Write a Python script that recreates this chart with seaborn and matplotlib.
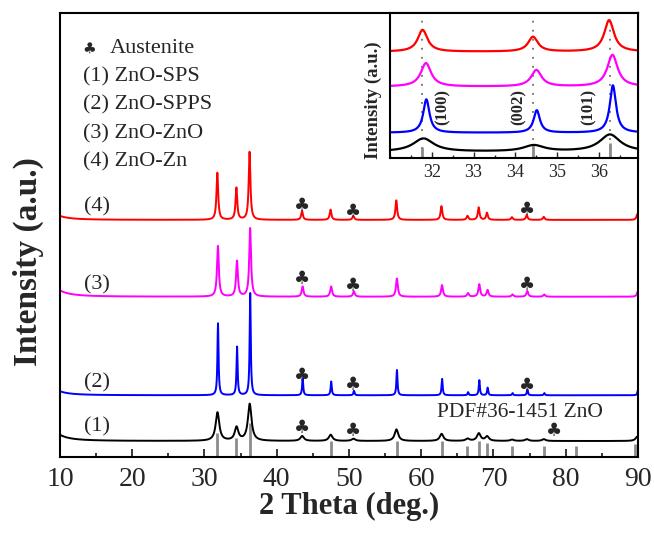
import numpy as np
import pandas as pd
import matplotlib
matplotlib.use("Agg")
import matplotlib.pyplot as plt
from matplotlib.ticker import MultipleLocator, FixedLocator
import seaborn as sns

# ---- values ----
samples = ["(1)", "(2)", "(3)", "(4)"]
sample_names = ["ZnO-SPS", "ZnO-SPPS", "ZnO-ZnO", "ZnO-Zn"]
colors = ["#000000", "#0000ff", "#ff00ff", "#ff0000"]

# peak centres (deg), ZnO reflections + austenite (43.5, 50.6, 74.6)
peak_pos = [31.78, 34.42, 36.24, 43.5, 47.45, 50.6, 56.55, 62.8, 66.4,
            67.95, 69.1, 72.55, 74.6, 76.95, 89.9]
# peak heights (a.u.) per sample, same order as peak_pos
heights_1 = [6.4, 3.0, 8.3, 1.1, 1.4, 0.5, 2.6, 1.6, 0.5, 1.7, 1.0, 0.3, 0.4, 0.4, 1.0]
heights_2 = [16.2, 10.9, 23.0, 3.8, 3.1, 1.0, 5.7, 3.7, 0.7, 3.4, 1.7, 0.5, 1.3, 0.5, 1.2]
heights_3 = [11.4, 8.0, 15.4, 2.3, 2.3, 1.2, 4.1, 2.6, 0.8, 2.8, 1.5, 0.5, 1.3, 0.5, 1.3]
heights_4 = [10.6, 7.2, 15.3, 2.0, 2.3, 0.9, 4.4, 3.1, 0.9, 2.8, 1.6, 0.6, 1.1, 0.7, 1.3]
peak_shift = [0.02, 0.09, 0.08, 0.0]        # small 2theta shifts seen in the inset
peak_width = [0.30, 0.09, 0.15, 0.14]       # half width (deg)
baseline = [3.6, 13.9, 36.1, 53.4]          # vertical offsets of the stacked patterns
low_angle_tail = [3.9, 2.5, 4.0, 2.5]       # background rise towards 10 deg

# austenite markers (2theta, intensity) per sample
club_pos = [[(43.5, 6.5), (50.6, 5.7), (78.4, 5.9)],
            [(43.5, 18.1), (50.6, 16.2), (74.6, 16.0)],
            [(43.5, 40.0), (50.6, 38.4), (74.6, 38.6)],
            [(43.5, 56.5), (50.6, 55.2), (74.6, 55.6)]]
label_y = [6.7, 16.7, 38.7, 56.4]

# PDF#36-1451 ZnO stick pattern
pdf_pos = [31.77, 34.42, 36.25, 47.54, 56.60, 62.86, 66.38, 67.96, 69.10,
           72.56, 76.95, 81.37, 89.60]
pdf_height = [5.3, 4.2, 7.6, 3.6, 3.5, 3.6, 2.5, 3.6, 3.1, 2.5, 2.5, 2.5, 2.9]

# inset (zoom on the three main ZnO peaks)
inset_offset = [4.3, 17.4, 49.2, 73.3]
inset_scale = 1.42
inset_lines = [31.77, 34.42, 36.25]
inset_pdf_height = [7.6, 9.0, 10.5]
inset_hkl = ["(100)", "(002)", "(101)"]
inset_hkl_x = [32.26, 34.08, 35.75]
inset_ticks = [32, 33, 34, 35, 36]


def pattern(x, i):
    heights = [heights_1, heights_2, heights_3, heights_4][i]
    y = np.full_like(x, baseline[i])
    for pos, h in zip(peak_pos, heights):
        y += h / (1 + ((x - pos - peak_shift[i]) / peak_width[i]) ** 2)
    y += low_angle_tail[i] / (1 + ((x - 8.0) / 1.5) ** 2)
    return y


sns.set_theme(style="white")
plt.rcParams["font.family"] = ["Liberation Serif", "DejaVu Sans"]

two_theta = np.arange(10.0, 90.001, 0.01)
frames = []
for i, s in enumerate(samples):
    frames.append(pd.DataFrame({"two_theta": two_theta,
                                "intensity": pattern(two_theta, i),
                                "sample": s}))
df = pd.concat(frames, ignore_index=True)

fig = plt.figure(figsize=(6.54, 5.33), dpi=100)
ax = fig.add_axes([0.0917, 0.1426, 0.8838, 0.833])

ax.vlines(pdf_pos, 0, pdf_height, color="#8c8c8c", lw=2.0, zorder=1)
sns.lineplot(data=df, x="two_theta", y="intensity", hue="sample",
             palette=dict(zip(samples, colors)), estimator=None, sort=False,
             linewidth=1.4, legend=False, ax=ax, zorder=2)

for i, s in enumerate(samples):
    ax.text(15.1, label_y[i], s, fontsize=16, ha="center", va="center")
    for cx, cy in club_pos[i]:
        ax.text(cx, cy, "\u2663", fontsize=13, ha="center", va="center",
                family="DejaVu Sans")

ax.text(73.7, 10.1, "PDF#36-1451 ZnO", fontsize=15.5, ha="center", va="center")

# legend-like text block
ax.text(0.050, 0.9205, "\u2663", transform=ax.transAxes, fontsize=11,
        ha="center", va="center", family="DejaVu Sans")
ax.text(0.0865, 0.9205, "Austenite", transform=ax.transAxes, fontsize=16,
        ha="left", va="center")
for k, (s, n) in enumerate(zip(samples, sample_names)):
    ax.text(0.0403, 0.8565 - k * 0.0638, f"{s} {n}", transform=ax.transAxes,
            fontsize=16, ha="left", va="center")

ax.set_xlim(10, 90)
ax.set_ylim(0, 100)
ax.xaxis.set_major_locator(MultipleLocator(10))
ax.xaxis.set_minor_locator(MultipleLocator(5))
ax.tick_params(axis="x", which="major", direction="in", length=6, width=1.3,
               labelsize=20, pad=7, bottom=True)
ax.tick_params(axis="x", which="minor", direction="in", length=3, width=1.3,
               bottom=True)
ax.tick_params(axis="y", left=False, labelleft=False)
ax.set_xlabel("2 Theta (deg.)", fontsize=22, fontweight="bold", labelpad=0)
ax.set_ylabel("Intensity (a.u.)", fontsize=24, fontweight="bold")
ax.yaxis.set_label_coords(-0.028, 0.44)
for sp in ax.spines.values():
    sp.set_linewidth(1.5)
    sp.set_color("black")

# ---- inset ----
x_in = np.arange(31.0, 36.935, 0.005)
frames = []
for i, s in enumerate(samples):
    y_in = inset_offset[i] + inset_scale * (pattern(x_in, i) - baseline[i])
    frames.append(pd.DataFrame({"two_theta": x_in, "intensity": y_in, "sample": s}))
df_in = pd.concat(frames, ignore_index=True)

ax_in = fig.add_axes([0.5963, 0.7036, 0.3792, 0.272])
for xv in inset_lines:
    ax_in.axvline(xv, color="#6e6e6e", lw=1.3, ls=(0, (1, 4)), zorder=1)
ax_in.vlines(inset_lines, 0, inset_pdf_height, color="#8c8c8c", lw=2.0, zorder=1)
sns.lineplot(data=df_in, x="two_theta", y="intensity", hue="sample",
             palette=dict(zip(samples, colors)), estimator=None, sort=False,
             linewidth=1.6, legend=False, ax=ax_in, zorder=2)
for xv, t in zip(inset_hkl_x, inset_hkl):
    ax_in.text(xv, 35.4, t, rotation=90, fontsize=12, fontweight="bold",
               ha="center", va="center")

ax_in.set_xlim(31.0, 36.93)
ax_in.set_ylim(0, 100)
ax_in.xaxis.set_major_locator(FixedLocator(inset_ticks))
ax_in.xaxis.set_minor_locator(MultipleLocator(0.5))
ax_in.tick_params(axis="x", which="major", direction="in", length=4.5, width=1.0,
                  labelsize=13, pad=4, bottom=True)
ax_in.tick_params(axis="x", which="minor", direction="in", length=2.5, width=1.0,
                  bottom=True)
ax_in.tick_params(axis="y", left=False, labelleft=False)
ax_in.set_xlabel("")
ax_in.set_ylabel("Intensity (a.u.)", fontsize=13.5, fontweight="bold")
ax_in.yaxis.set_label_coords(-0.032, 0.40)
for sp in ax_in.spines.values():
    sp.set_linewidth(1.5)
    sp.set_color("black")

fig.savefig("out.png", dpi=100)
